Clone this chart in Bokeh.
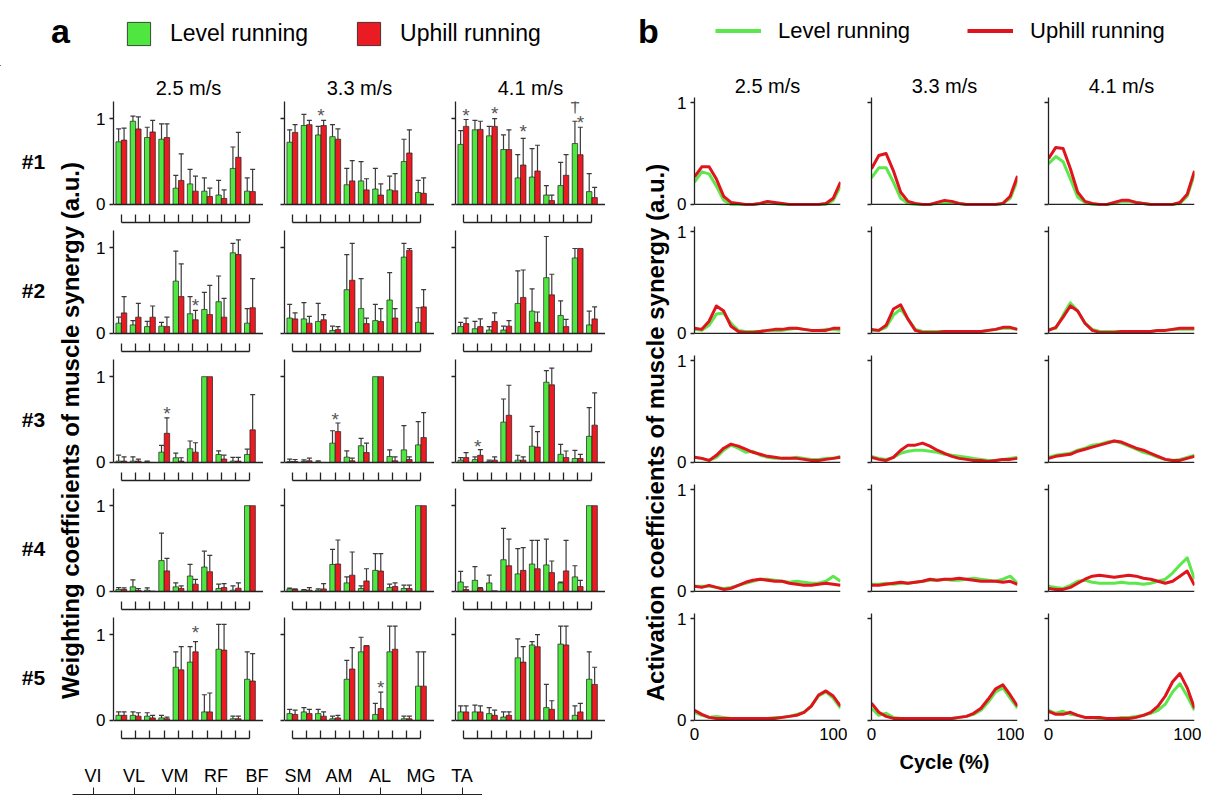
import math
import numpy as np
from bokeh.plotting import figure
from bokeh.layouts import row, column
from bokeh.models import (ColumnDataSource, Range1d, FactorRange, FixedTicker, Span,
                          Whisker, TeeHead, Legend, LegendItem, LabelSet)
from bokeh.embed import file_html
from bokeh.resources import INLINE
from bokeh.core.properties import value

nan = float("nan")

# ---------------- categories / labels ----------------
muscles = ["VI", "VL", "VM", "RF", "BF", "SM", "AM", "AL", "MG", "TA"]
speeds = ["2.5 m/s", "3.3 m/s", "4.1 m/s"]
synergies = ["#1", "#2", "#3", "#4", "#5"]
cycle_pct = [0, 5, 10, 15, 20, 25, 30, 35, 40, 45, 50, 55, 60, 65, 70, 75, 80, 85, 90, 95, 100]

# ---------------- panel a: weighting coefficients (mean, top of SD bar) ----------------
# each list: [2.5 m/s, 3.3 m/s, 4.1 m/s], 10 muscles each
level_w1 = [[0.73, 0.97, 0.78, 0.76, 0.19, 0.24, 0.155, 0.11, 0.42, 0.155],
            [0.725, 0.92, 0.81, 0.79, 0.23, 0.275, 0.18, 0.17, 0.50, 0.14],
            [0.70, 0.87, 0.80, 0.64, 0.31, 0.32, 0.11, 0.22, 0.71, 0.15]]
level_w1_sd = [[0.88, 1.03, 0.90, 0.94, 0.34, 0.41, 0.31, 0.28, 0.67, 0.31],
               [0.87, 1.05, 0.91, 0.93, 0.42, 0.50, 0.42, 0.33, 0.76, 0.28],
               [0.86, 0.98, 0.91, 0.81, 0.58, 0.65, 0.22, 0.49, 0.97, 0.36]]
uphill_w1 = [[0.75, 0.88, 0.845, 0.78, 0.28, 0.155, 0.093, 0.07, 0.55, 0.15],
             [0.84, 0.93, 0.92, 0.76, 0.275, 0.17, 0.11, 0.16, 0.60, 0.13],
             [0.91, 0.875, 0.91, 0.64, 0.46, 0.39, 0.045, 0.34, 0.58, 0.08]]
uphill_w1_sd = [[0.89, 1.02, 0.98, 0.94, 0.59, 0.33, 0.19, 0.17, 0.84, 0.41],
                [0.93, 0.98, 0.98, 0.88, 0.51, 0.30, 0.24, 0.36, 0.87, 0.31],
                [0.99, 0.97, 1.00, 0.87, 0.77, 0.69, 0.11, 0.58, 0.90, 0.20]]

level_w2 = [[0.12, 0.10, 0.08, 0.085, 0.61, 0.23, 0.28, 0.37, 0.94, 0.12],
            [0.18, 0.17, 0.14, 0.035, 0.51, 0.29, 0.15, 0.39, 0.89, 0.13],
            [0.08, 0.055, 0.04, 0.04, 0.35, 0.26, 0.65, 0.21, 0.88, 0.10]]
level_w2_sd = [[0.19, 0.15, 0.14, 0.13, 0.96, 0.43, 0.48, 0.67, 1.05, 0.29],
               [0.34, 0.36, 0.35, 0.085, 0.92, 0.64, 0.34, 0.71, 1.05, 0.30],
               [0.13, 0.14, 0.08, 0.085, 0.73, 0.52, 1.13, 0.38, 0.99, 0.26]]
uphill_w2 = [[0.24, 0.19, 0.19, 0.08, 0.43, 0.16, 0.22, 0.19, 0.92, 0.30],
             [0.17, 0.12, 0.16, 0.045, 0.62, 0.115, 0.14, 0.18, 0.97, 0.31],
             [0.115, 0.08, 0.14, 0.085, 0.42, 0.13, 0.45, 0.08, 0.99, 0.17]]
uphill_w2_sd = [[0.43, 0.35, 0.32, 0.19, 0.81, 0.27, 0.56, 0.41, 1.09, 0.64],
                [0.24, 0.20, 0.22, 0.08, 1.05, 0.18, 0.29, 0.29, 0.99, 0.51],
                [0.18, 0.17, 0.24, 0.15, 0.74, 0.25, 0.69, 0.165, nan, 0.31]]

level_w3 = [[0.016, 0.016, 0.008, 0.12, 0.055, 0.16, 1.0, 0.093, 0.016, 0.093],
            [0.012, 0.012, 0.008, 0.225, 0.062, 0.195, 1.0, 0.07, 0.147, 0.205],
            [0.027, 0.034, 0.011, 0.47, 0.027, 0.19, 0.935, 0.095, 0.046, 0.305]]
level_w3_sd = [[0.085, 0.066, 0.016, 0.20, 0.11, 0.25, nan, 0.136, 0.06, 0.155],
               [0.04, 0.03, 0.02, 0.37, 0.135, 0.28, nan, 0.147, 0.43, 0.477],
               [0.057, 0.065, 0.027, 0.74, 0.084, 0.42, 1.07, 0.21, 0.14, 0.64]]
uphill_w3 = [[0.016, 0.016, 0.0, 0.34, 0.016, 0.12, 1.0, 0.04, 0.016, 0.38],
             [0.012, 0.02, 0.0, 0.36, 0.02, 0.116, 1.0, 0.02, 0.035, 0.29],
             [0.057, 0.084, 0.027, 0.55, 0.027, 0.18, 0.905, 0.057, 0.046, 0.435]]
uphill_w3_sd = [[0.066, 0.04, nan, 0.52, 0.055, 0.23, nan, 0.085, 0.06, 0.79],
                [0.035, 0.05, nan, 0.46, 0.05, 0.225, nan, 0.066, 0.066, 0.58],
                [0.115, 0.149, 0.065, 0.90, 0.065, 0.36, 1.10, 0.134, 0.095, 0.81]]

level_w4 = [[0.023, 0.054, 0.015, 0.36, 0.054, 0.18, 0.285, 0.035, 0.015, 1.0],
            [0.03, 0.015, 0.015, 0.315, 0.10, 0.035, 0.246, 0.046, 0.035, 1.0],
            [0.11, 0.13, 0.10, 0.37, 0.205, 0.32, 0.31, 0.10, 0.17, 1.0]]
level_w4_sd = [[0.046, 0.135, 0.042, 0.68, 0.10, 0.315, 0.47, 0.085, 0.065, nan],
               [0.04, 0.023, 0.03, 0.49, 0.17, 0.065, 0.44, 0.085, 0.073, nan],
               [0.235, 0.29, 0.19, 0.735, 0.50, 0.595, 0.61, 0.11, 0.30, nan]]
uphill_w4 = [[0.023, 0.015, 0.004, 0.24, 0.035, 0.085, 0.23, 0.046, 0.038, 1.0],
             [0.023, 0.015, 0.03, 0.32, 0.19, 0.123, 0.238, 0.058, 0.035, 1.0],
             [0.023, 0.034, 0.008, 0.30, 0.246, 0.265, 0.22, 0.24, 0.057, 1.0]]
uphill_w4_sd = [[0.042, 0.035, nan, 0.385, 0.065, 0.14, 0.42, 0.092, 0.10, nan],
                [0.03, 0.046, 0.092, 0.60, 0.46, 0.265, 0.44, 0.10, 0.073, nan],
                [0.053, 0.045, nan, 0.61, 0.51, 0.595, 0.355, 0.595, 0.13, nan]]

level_w5 = [[0.06, 0.06, 0.05, 0.03, 0.62, 0.68, 0.10, 0.83, 0.02, 0.48],
            [0.08, 0.10, 0.08, 0.02, 0.48, 0.80, 0.07, 0.80, 0.02, 0.40],
            [0.10, 0.10, 0.08, 0.04, 0.73, 0.88, 0.15, 0.89, 0.06, 0.48]]
level_w5_sd = [[0.10, 0.10, 0.09, 0.06, 0.80, 0.86, 0.30, 1.12, 0.05, 0.80],
               [0.13, 0.15, 0.13, 0.05, 0.70, 0.97, 0.20, 1.10, 0.05, 0.80],
               [0.17, 0.18, 0.15, 0.10, 0.95, 0.92, 0.42, 1.10, 0.17, 0.80]]
uphill_w5 = [[0.06, 0.05, 0.03, 0.02, 0.59, 0.80, 0.10, 0.82, 0.02, 0.46],
             [0.07, 0.08, 0.05, 0.03, 0.60, 0.87, 0.14, 0.83, 0.02, 0.40],
             [0.10, 0.10, 0.06, 0.06, 0.68, 0.86, 0.13, 0.88, 0.10, 0.42]]
uphill_w5_sd = [[0.10, 0.09, 0.06, 0.04, 0.86, 0.92, 0.32, 1.12, 0.05, 0.78],
                [0.12, 0.13, 0.10, 0.06, 0.85, 0.87, 0.33, 1.10, 0.05, 0.80],
                [0.17, 0.17, 0.12, 0.10, 0.86, 1.00, 0.23, 1.10, 0.20, 0.62]]

# significance marks: (synergy, speed, muscle index, bar, value, symbol)
marks = [(0, 1, 2, "c", 1.10, "*"), (0, 2, 0, "r", 1.10, "*"), (0, 2, 2, "r", 1.12, "*"),
         (0, 2, 4, "r", 0.91, "*"), (0, 2, 8, "g", 1.21, "\u2020"), (0, 2, 8, "r", 1.01, "*"),
         (1, 0, 5, "r", 0.38, "*"), (2, 0, 3, "r", 0.63, "*"), (2, 1, 3, "c", 0.56, "*"),
         (2, 2, 1, "c", 0.245, "*"), (4, 0, 5, "r", 1.08, "*"), (4, 1, 6, "r", 0.44, "*")]

# ---------------- panel b: activation coefficients over the cycle ----------------
act_level_1 = [[0.22, 0.32, 0.30, 0.18, 0.04, 0.0, 0.0, 0.0, 0.0, 0.01, 0.02, 0.01, 0.0, 0.0, 0.0, 0.0, 0.0, 0.0, 0.0, 0.04, 0.18],
               [0.26, 0.36, 0.36, 0.22, 0.06, 0.01, 0.0, 0.0, 0.0, 0.01, 0.02, 0.02, 0.01, 0.0, 0.0, 0.0, 0.0, 0.0, 0.01, 0.06, 0.24],
               [0.40, 0.47, 0.42, 0.25, 0.07, 0.02, 0.0, 0.0, 0.0, 0.01, 0.03, 0.03, 0.02, 0.01, 0.0, 0.0, 0.0, 0.0, 0.01, 0.08, 0.30]]
act_uphill_1 = [[0.27, 0.37, 0.37, 0.25, 0.08, 0.02, 0.01, 0.0, 0.0, 0.01, 0.03, 0.02, 0.01, 0.0, 0.0, 0.0, 0.0, 0.0, 0.01, 0.06, 0.22],
                [0.35, 0.48, 0.50, 0.33, 0.12, 0.03, 0.01, 0.0, 0.0, 0.02, 0.04, 0.03, 0.01, 0.0, 0.0, 0.0, 0.0, 0.0, 0.01, 0.08, 0.28],
                [0.45, 0.56, 0.55, 0.35, 0.12, 0.03, 0.01, 0.0, 0.0, 0.02, 0.04, 0.04, 0.02, 0.01, 0.0, 0.0, 0.0, 0.0, 0.02, 0.10, 0.33]]
act_level_2 = [[0.04, 0.03, 0.08, 0.19, 0.20, 0.10, 0.03, 0.02, 0.02, 0.02, 0.03, 0.03, 0.03, 0.04, 0.05, 0.04, 0.03, 0.03, 0.04, 0.04, 0.03],
               [0.03, 0.03, 0.06, 0.18, 0.24, 0.14, 0.04, 0.02, 0.02, 0.02, 0.02, 0.02, 0.02, 0.02, 0.02, 0.02, 0.03, 0.04, 0.05, 0.05, 0.04],
               [0.04, 0.05, 0.18, 0.30, 0.22, 0.10, 0.04, 0.02, 0.02, 0.02, 0.02, 0.02, 0.02, 0.02, 0.02, 0.03, 0.03, 0.04, 0.04, 0.04, 0.04]]
act_uphill_2 = [[0.05, 0.04, 0.12, 0.27, 0.22, 0.07, 0.02, 0.01, 0.01, 0.02, 0.03, 0.04, 0.04, 0.05, 0.05, 0.04, 0.03, 0.03, 0.03, 0.05, 0.05],
                [0.04, 0.03, 0.08, 0.24, 0.28, 0.14, 0.03, 0.01, 0.01, 0.01, 0.02, 0.02, 0.02, 0.02, 0.02, 0.02, 0.03, 0.04, 0.06, 0.06, 0.04],
                [0.03, 0.06, 0.16, 0.27, 0.22, 0.10, 0.03, 0.01, 0.01, 0.01, 0.02, 0.02, 0.02, 0.02, 0.02, 0.03, 0.03, 0.04, 0.05, 0.05, 0.05]]
act_level_3 = [[0.05, 0.04, 0.02, 0.05, 0.12, 0.17, 0.14, 0.10, 0.11, 0.07, 0.05, 0.04, 0.04, 0.04, 0.05, 0.04, 0.03, 0.03, 0.04, 0.04, 0.06],
               [0.06, 0.04, 0.03, 0.05, 0.09, 0.11, 0.12, 0.12, 0.11, 0.10, 0.08, 0.07, 0.06, 0.05, 0.04, 0.03, 0.02, 0.02, 0.03, 0.04, 0.05],
               [0.05, 0.07, 0.08, 0.09, 0.12, 0.14, 0.17, 0.18, 0.20, 0.21, 0.19, 0.16, 0.13, 0.10, 0.08, 0.05, 0.03, 0.02, 0.03, 0.05, 0.07]]
act_uphill_3 = [[0.05, 0.04, 0.02, 0.07, 0.14, 0.18, 0.16, 0.13, 0.10, 0.08, 0.06, 0.05, 0.04, 0.04, 0.04, 0.03, 0.02, 0.02, 0.03, 0.04, 0.05],
                [0.05, 0.03, 0.02, 0.05, 0.12, 0.17, 0.17, 0.19, 0.16, 0.12, 0.09, 0.06, 0.04, 0.03, 0.02, 0.02, 0.01, 0.02, 0.03, 0.03, 0.04],
                [0.04, 0.06, 0.07, 0.08, 0.11, 0.13, 0.15, 0.17, 0.19, 0.21, 0.20, 0.17, 0.14, 0.12, 0.09, 0.06, 0.03, 0.02, 0.02, 0.04, 0.06]]
act_level_4 = [[0.05, 0.05, 0.05, 0.04, 0.03, 0.04, 0.06, 0.08, 0.10, 0.12, 0.12, 0.11, 0.10, 0.09, 0.10, 0.09, 0.08, 0.08, 0.10, 0.15, 0.10],
               [0.07, 0.07, 0.08, 0.07, 0.08, 0.08, 0.09, 0.10, 0.11, 0.11, 0.12, 0.11, 0.11, 0.12, 0.13, 0.12, 0.11, 0.10, 0.12, 0.15, 0.08],
               [0.05, 0.04, 0.03, 0.06, 0.10, 0.11, 0.09, 0.08, 0.08, 0.08, 0.09, 0.08, 0.08, 0.07, 0.08, 0.10, 0.12, 0.18, 0.26, 0.33, 0.12]]
act_uphill_4 = [[0.05, 0.04, 0.06, 0.04, 0.02, 0.03, 0.06, 0.09, 0.11, 0.12, 0.11, 0.10, 0.10, 0.08, 0.07, 0.06, 0.06, 0.07, 0.08, 0.07, 0.06],
                [0.06, 0.06, 0.07, 0.08, 0.09, 0.08, 0.09, 0.10, 0.12, 0.11, 0.12, 0.12, 0.13, 0.12, 0.11, 0.10, 0.10, 0.10, 0.09, 0.10, 0.07],
                [0.03, 0.02, 0.02, 0.04, 0.08, 0.12, 0.15, 0.16, 0.15, 0.14, 0.15, 0.16, 0.15, 0.13, 0.12, 0.10, 0.08, 0.10, 0.15, 0.20, 0.06]]
act_level_5 = [[0.08, 0.05, 0.03, 0.04, 0.03, 0.02, 0.02, 0.02, 0.02, 0.02, 0.02, 0.03, 0.03, 0.04, 0.06, 0.08, 0.14, 0.24, 0.28, 0.22, 0.12],
               [0.12, 0.05, 0.07, 0.03, 0.02, 0.02, 0.02, 0.02, 0.02, 0.02, 0.02, 0.02, 0.03, 0.04, 0.06, 0.10, 0.18, 0.28, 0.32, 0.22, 0.12],
               [0.10, 0.07, 0.09, 0.06, 0.05, 0.03, 0.03, 0.02, 0.02, 0.02, 0.03, 0.03, 0.04, 0.05, 0.07, 0.10, 0.16, 0.28, 0.36, 0.24, 0.10]]
act_uphill_5 = [[0.10, 0.06, 0.03, 0.02, 0.02, 0.02, 0.02, 0.02, 0.02, 0.02, 0.02, 0.02, 0.03, 0.04, 0.05, 0.08, 0.14, 0.25, 0.29, 0.24, 0.14],
                [0.17, 0.08, 0.04, 0.02, 0.02, 0.02, 0.02, 0.02, 0.02, 0.02, 0.02, 0.02, 0.03, 0.04, 0.07, 0.12, 0.21, 0.31, 0.35, 0.25, 0.14],
                [0.09, 0.06, 0.06, 0.08, 0.05, 0.03, 0.03, 0.03, 0.02, 0.02, 0.02, 0.02, 0.03, 0.05, 0.08, 0.14, 0.24, 0.38, 0.46, 0.32, 0.12]]

LEVEL = [level_w1, level_w2, level_w3, level_w4, level_w5]
LEVEL_SD = [level_w1_sd, level_w2_sd, level_w3_sd, level_w4_sd, level_w5_sd]
UPHILL = [uphill_w1, uphill_w2, uphill_w3, uphill_w4, uphill_w5]
UPHILL_SD = [uphill_w1_sd, uphill_w2_sd, uphill_w3_sd, uphill_w4_sd, uphill_w5_sd]
ACT_LEVEL = [act_level_1, act_level_2, act_level_3, act_level_4, act_level_5]
ACT_UPHILL = [act_uphill_1, act_uphill_2, act_uphill_3, act_uphill_4, act_uphill_5]

# ---------------- styles ----------------
FONT = "Liberation Sans"
GREEN = "#4FE640"
RED = "#EA1B23"
LGREEN = "#5CE84C"
LRED = "#E0141C"
EDGE = "#1E1E1E"
ERR = "#3A3A3A"
AXC = "#222222"
BAR_W = 0.38
TITLE_SHIFT_A = [7, 16, 25]
TITLE_SHIFT_B = [-27, -31, -31]


def base_fig(**kw):
    p = figure(output_backend="svg", toolbar_location=None, tools="", **kw)
    p.grid.visible = False
    p.outline_line_color = None
    p.background_fill_color = "white"
    p.border_fill_color = "white"
    return p


def plain_fig(w, h):
    return base_fig(width=w, height=h, x_range=Range1d(0, w), y_range=Range1d(0, h),
                    x_axis_location=None, y_axis_location=None,
                    min_border=0, min_border_left=0, min_border_right=0,
                    min_border_top=0, min_border_bottom=0)


def style_title(p, standoff, shift):
    p.title.align = "center"
    p.title.offset = shift
    p.title.text_font = FONT
    p.title.text_font_size = "20px"
    p.title.text_font_style = "normal"
    p.title.text_color = "black"
    p.title.standoff = standoff


def style_yaxis(ya, show, bounds):
    ya.ticker = FixedTicker(ticks=[0, 1])
    ya.bounds = bounds
    ya.major_tick_out = 4
    ya.major_tick_in = 0
    ya.minor_tick_out = 0
    ya.minor_tick_in = 0
    ya.axis_line_color = AXC
    ya.axis_line_width = 1.3
    ya.major_tick_line_color = AXC
    ya.major_tick_line_width = 1.3
    ya.major_label_text_font = FONT
    ya.major_label_text_font_size = "17px"
    ya.major_label_text_color = "black" if show else None
    ya.major_label_standoff = 4


def bar_cell(s, c):
    top = s == 0
    kw = dict(width=171, height=160 if top else 129,
              x_range=Range1d(-0.55, 9.95), y_range=Range1d(-0.21, 1.2),
              min_border_left=21, min_border_right=0,
              min_border_top=35 if top else 4, min_border_bottom=4)
    if top:
        kw["title"] = speeds[c]
    p = base_fig(**kw)
    if top:
        style_title(p, 6, TITLE_SHIFT_A[c])
    idx = np.arange(len(muscles))
    src = ColumnDataSource(dict(
        xg=idx - BAR_W / 2, xr=idx + BAR_W / 2,
        g=np.array(LEVEL[s][c], dtype=float), gu=np.array(LEVEL_SD[s][c], dtype=float),
        r=np.array(UPHILL[s][c], dtype=float), ru=np.array(UPHILL_SD[s][c], dtype=float)))
    for xk, lo, hi in (("xg", "g", "gu"), ("xr", "r", "ru")):
        p.add_layout(Whisker(source=src, base=xk, lower=lo, upper=hi, dimension="height",
                             line_color=ERR, line_width=1.2, lower_head=None,
                             upper_head=TeeHead(size=5, line_color=ERR, line_width=1.2)))
    p.vbar(x="xg", top="g", bottom=0, width=BAR_W, source=src,
           fill_color=GREEN, line_color=EDGE, line_width=0.7)
    p.vbar(x="xr", top="r", bottom=0, width=BAR_W, source=src,
           fill_color=RED, line_color=EDGE, line_width=0.7)
    p.add_layout(Span(location=0, dimension="width", line_color=AXC, line_width=1.3))

    sel = [m for m in marks if m[0] == s and m[1] == c]
    if sel:
        off = {"g": -BAR_W / 2, "r": BAR_W / 2, "c": 0.0}
        msrc = ColumnDataSource(dict(x=[m[2] + off[m[3]] for m in sel],
                                     y=[m[4] for m in sel],
                                     t=[m[5] for m in sel]))
        p.add_layout(LabelSet(x="x", y="y", text="t", source=msrc,
                              text_align="center", text_baseline="middle",
                              text_font=value(FONT), text_font_size="19px",
                              text_color="#555555", y_offset=-5))

    style_yaxis(p.yaxis[0], c == 0, (0, 1.2))
    # bracket under the bars: one tick per muscle
    xa = p.xaxis[0]
    xa.ticker = FixedTicker(ticks=list(range(len(muscles))))
    xa.bounds = (0, len(muscles) - 1)
    xa.major_tick_in = 8
    xa.major_tick_out = 0
    xa.minor_tick_in = 0
    xa.minor_tick_out = 0
    xa.major_label_text_font_size = "1px"
    xa.major_label_text_color = None
    xa.major_label_standoff = 0
    xa.axis_line_color = AXC
    xa.axis_line_width = 1.3
    xa.major_tick_line_color = AXC
    xa.major_tick_line_width = 1.3
    return p


def line_cell(s, c):
    top = s == 0
    bottom = s == 4
    kw = dict(width=177, height=151 if top else (186 if bottom else 129),
              x_range=Range1d(0, 100), y_range=Range1d(-0.03, 1.05),
              min_border_left=24, min_border_right=7,
              min_border_top=31 if top else 9, min_border_bottom=67 if bottom else 10)
    if top:
        kw["title"] = speeds[c]
    p = base_fig(**kw)
    if top:
        style_title(p, 2, TITLE_SHIFT_B[c])
    p.add_layout(Span(location=0, dimension="width", line_color=AXC, line_width=1.3))
    p.line(cycle_pct, ACT_LEVEL[s][c], line_color=LGREEN, line_width=3, line_join="round")
    p.line(cycle_pct, ACT_UPHILL[s][c], line_color=LRED, line_width=3, line_join="round")
    style_yaxis(p.yaxis[0], c == 0, (0, 1.05))
    xa = p.xaxis[0]
    if bottom:
        xa.ticker = FixedTicker(ticks=[0, 100])
        xa.major_tick_in = 0
        xa.major_tick_out = 0
        xa.minor_tick_in = 0
        xa.minor_tick_out = 0
        xa.axis_line_color = None
        xa.major_label_text_font = FONT
        xa.major_label_text_font_size = "17px"
        xa.major_label_text_color = "black"
        xa.major_label_standoff = 4
        if c == 1:
            xa.axis_label = "Cycle (%)"
            xa.axis_label_text_font = FONT
            xa.axis_label_text_font_size = "20px"
            xa.axis_label_text_font_style = "bold"
            xa.axis_label_text_color = "black"
            xa.axis_label_standoff = 8
    else:
        xa.visible = False
    return p


# ---------------- header with legends ----------------
HDR_W, HDR_H = 1209, 66
hdr = plain_fig(HDR_W, HDR_H)
hdr.text(x=[60, 648], y=[36, 36], text=["a", "b"], text_font=value(FONT),
         text_font_size="34px", text_font_style="bold", text_align="center",
         text_baseline="middle", text_color="black")
# legend swatch renderers: their single dummy point lies outside the visible range
ga = hdr.vbar(x=[-100], top=[1], width=1, fill_color=GREEN, line_color=EDGE, line_width=0.8)
ra = hdr.vbar(x=[-100], top=[1], width=1, fill_color=RED, line_color=EDGE, line_width=0.8)
gb = hdr.line(x=[-100, -90], y=[1, 1], line_color=LGREEN, line_width=4)
rb = hdr.line(x=[-100, -90], y=[1, 1], line_color=LRED, line_width=4)


def make_legend(items, loc, gw, standoff, spacing, size):
    return Legend(items=items, orientation="horizontal", location=loc,
                  glyph_width=gw, glyph_height=29, label_standoff=standoff,
                  spacing=spacing, padding=0, margin=0,
                  border_line_color=None, background_fill_alpha=0,
                  label_text_font=FONT, label_text_font_size=size,
                  label_text_color="black")


hdr.add_layout(make_legend([LegendItem(label="Level running", renderers=[ga]),
                            LegendItem(label="Uphill running", renderers=[ra])],
                           (124, 18), 29, 17, 46, "23px"))
hdr.add_layout(make_legend([LegendItem(label="Level running", renderers=[gb]),
                            LegendItem(label="Uphill running", renderers=[rb])],
                           (715, 21), 46, 17, 57, "22px"))

# ---------------- side labels ----------------
la = plain_fig(92, 676)
la.text(x=[33] * len(synergies), y=[581 - 129 * i for i in range(len(synergies))],
        text=synergies, text_font=value(FONT), text_font_size="21px",
        text_font_style="bold", text_align="center", text_baseline="middle",
        text_color="black")
la.text(x=[70], y=[312], text=["Weighting coefficients of muscle synergy (a.u.)"],
        angle=math.pi / 2, text_font=value(FONT), text_font_size="24px",
        text_font_style="bold", text_align="center", text_baseline="middle",
        text_color="black")

lb = plain_fig(65, 724)
lb.text(x=[50], y=[358], text=["Activation coefficients of muscle synergy (a.u.)"],
        angle=math.pi / 2, text_font=value(FONT), text_font_size="24px",
        text_font_style="bold", text_align="center", text_baseline="middle",
        text_color="black")

# muscle key below panel a
mf = base_fig(width=482, height=55, x_range=FactorRange(factors=muscles), y_range=Range1d(0, 1),
              x_axis_location="above", y_axis_location=None,
              min_border_left=72, min_border_right=0, min_border_top=52, min_border_bottom=0)
ma = mf.xaxis[0]
ma.major_tick_out = 7
ma.major_tick_in = 0
ma.major_label_standoff = 2
ma.major_label_text_font = FONT
ma.major_label_text_font_size = "18px"
ma.major_label_text_color = "black"
ma.axis_line_color = AXC
ma.major_tick_line_color = AXC

gridA = column(*[row(*[bar_cell(s, c) for c in range(3)]) for s in range(5)])
colA = column(row(la, gridA), mf)
gridB = column(*[row(*[line_cell(s, c) for c in range(3)]) for s in range(5)])
colB = row(lb, gridB)
root = column(hdr, row(colA, colB))

open("out.html", "w").write(file_html(root, INLINE, title="Muscle synergies"))
